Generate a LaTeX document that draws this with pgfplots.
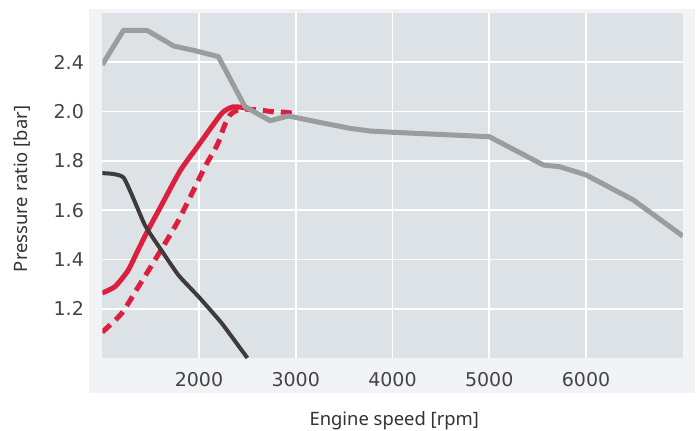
\documentclass[border=0pt]{standalone}
\usepackage{fontspec}
\setmainfont{Noto Sans}
\newfontfamily\tickfont{DejaVu Sans}
\usepackage{pgfplots}
\pgfplotsset{compat=1.18}

\definecolor{paperbg}{HTML}{F1F3F7}
\definecolor{plotbg}{HTML}{DCE2E5}
\definecolor{lgray}{HTML}{9A9C9D}
\definecolor{dgray}{HTML}{3F3B3C}
\definecolor{cred}{HTML}{DC1F3C}
\definecolor{tickc}{HTML}{444444}
\definecolor{titlec}{HTML}{333333}

\begin{document}
\begin{tikzpicture}
\path[use as bounding box] (0,0) rectangle (350pt,215pt);
\fill[white] (0,0) rectangle (350pt,215pt);
\fill[paperbg] (44.5pt,18.5pt) rectangle (347.5pt,210.5pt);
\begin{axis}[
  at={(51.125pt,36pt)}, anchor=south west,
  scale only axis, width=290.25pt, height=172.5pt,
  xmin=1000, xmax=7000, ymin=1.0, ymax=2.4,
  axis background/.style={fill=plotbg},
  axis line style={draw=none},
  major tick length=0pt,
  grid=major, grid style={white, line width=0.8pt},
  xtick={2000,3000,4000,5000,6000},
  xticklabels={2000,3000,4000,5000,6000},
  ytick={1.2,1.4,1.6,1.8,2.0,2.2},
  yticklabels={1.2,1.4,1.6,1.8,2.0,2.4},
  xticklabel style={font=\tickfont\fontsize{9.5}{11}\selectfont, text=tickc, anchor=center, yshift=-11pt},
  yticklabel style={font=\tickfont\fontsize{9.5}{11}\selectfont, text=tickc, anchor=east, inner sep=0pt, xshift=-9pt},
  xlabel={Engine speed [rpm]},
  ylabel={Pressure ratio [bar]},
  xlabel style={at={(axis description cs:0.503,-0.183)}, anchor=center, font=\fontsize{9.2}{11}\selectfont, text=titlec},
  ylabel style={at={(axis description cs:-0.138,0.49)}, anchor=center, font=\fontsize{9.2}{11}\selectfont, text=titlec},
  line join=round,
]
% red dashed
\addplot[cred, line width=2.5pt, dash pattern=on 5.5pt off 3.5pt, smooth, tension=0.4] coordinates {
  (1000,1.105) (1200,1.181) (1373,1.289) (1545,1.398) (1790,1.560)
  (2062,1.776) (2148,1.835) (2200,1.875) (2260,1.940) (2320,1.986)
  (2380,2.003) (2450,2.010) (2630,2.006) (2750,2.000) (2900,1.997) (2980,1.992)
};
% red solid
\addplot[cred, line width=2.5pt, smooth, tension=0.4] coordinates {
  (1000,1.264) (1132,1.290) (1266,1.355) (1370,1.438) (1473,1.519)
  (1597,1.609) (1804,1.759) (1979,1.855) (2145,1.946) (2248,1.998)
  (2351,2.019) (2496,2.015)
};
% grey
\addplot[lgray, line width=2.5pt] coordinates {
  (1000,2.19) (1220,2.33) (1460,2.33) (1740,2.266) (1960,2.247)
  (2200,2.223) (2475,2.02) (2735,1.963) (2925,1.982) (3300,1.952)
  (3560,1.932) (3770,1.921) (4000,1.916) (5000,1.898) (5560,1.783)
  (5730,1.776) (6000,1.743) (6490,1.641) (7000,1.495)
};
% dark
\addplot[dgray, line width=2pt, smooth, tension=0.3] coordinates {
  (1000,1.750) (1220,1.732) (1440,1.540) (1615,1.435)
  (1790,1.335) (1995,1.249) (2235,1.141) (2500,1.000)
};
\end{axis}
\end{tikzpicture}
\end{document}
